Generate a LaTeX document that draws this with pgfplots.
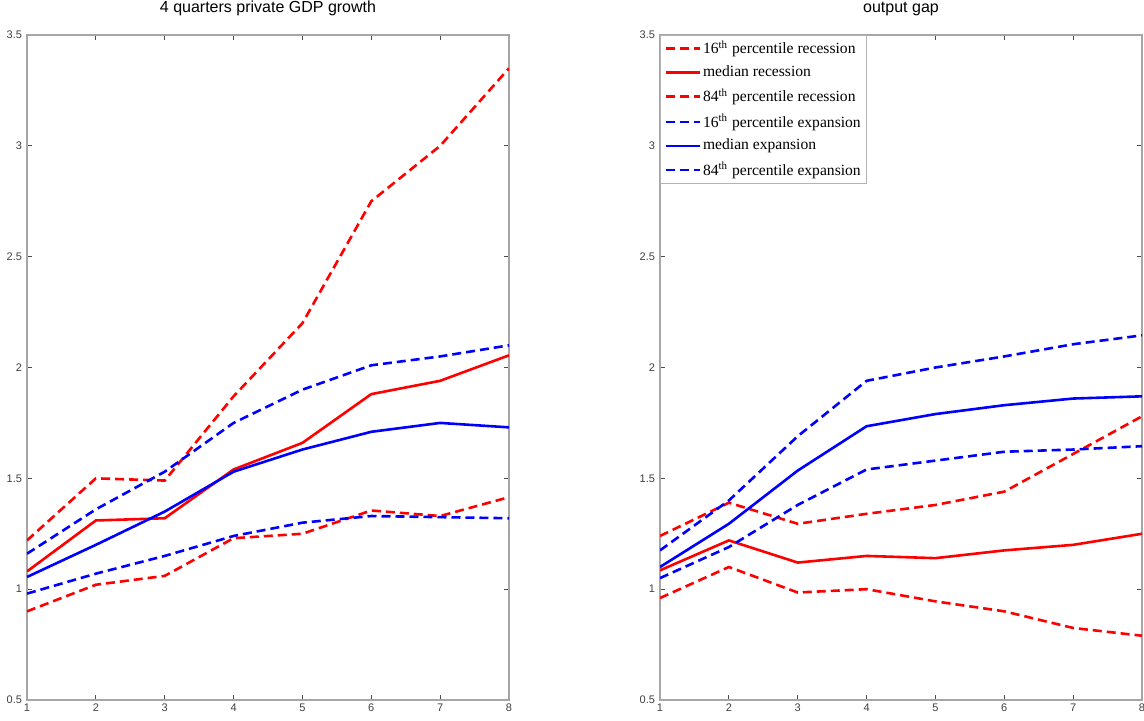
\documentclass[border=0pt]{standalone}
\usepackage{fontspec}
\setmainfont{Liberation Serif}
\setsansfont{Liberation Sans}
\usepackage{pgfplots}
\pgfplotsset{compat=1.18}
\begin{document}
\begin{tikzpicture}
\pgfplotsset{
  panel/.style={
    scale only axis, width=241pt, height=332.5pt,
    xmin=1, xmax=8, ymin=0.5, ymax=3.5,
    xtick={1,2,...,8}, ytick={0.5,1,1.5,2,2.5,3,3.5},
    tick align=inside, xtick pos=both, ytick pos=both,
    major tick length=2.5pt,
    axis line style={gray!70, line width=0.6pt},
    tick style={black!70, line width=0.5pt},
    tick label style={font=\sffamily\fontsize{5.5}{6}\selectfont, text=black!75},
    yticklabel style={xshift=1pt},
    xticklabel style={yshift=1.5pt},
    /pgf/number format/assume math mode=true,
    title style={font=\sffamily\fontsize{8}{9}\selectfont, at={(0.5,1)}, anchor=base, inner sep=0pt, yshift=5.5pt},
  },
  rd/.style={red, line width=1.3pt, dash pattern=on 4.5pt off 2.5pt},
  rs/.style={red, line width=1.3pt},
  bd/.style={blue, line width=1.3pt, dash pattern=on 4.5pt off 2.5pt},
  bs/.style={blue, line width=1.3pt},
}
\path[use as bounding box] (0,0) rectangle (572pt,360pt);
\begin{axis}[panel, at={(13.5pt,10pt)}, anchor=south west, title={4 quarters private GDP growth}]
\addplot[rd] coordinates {(1,0.90) (2,1.02) (3,1.06) (4,1.23) (5,1.25) (6,1.355) (7,1.33) (8,1.415)};
\addplot[rs] coordinates {(1,1.08) (2,1.31) (3,1.32) (4,1.54) (5,1.66) (6,1.88) (7,1.94) (8,2.055)};
\addplot[rd] coordinates {(1,1.22) (2,1.50) (3,1.49) (4,1.87) (5,2.20) (6,2.75) (7,3.0) (8,3.35)};
\addplot[bd] coordinates {(1,0.98) (2,1.07) (3,1.15) (4,1.24) (5,1.30) (6,1.33) (7,1.325) (8,1.32)};
\addplot[bs] coordinates {(1,1.055) (2,1.20) (3,1.35) (4,1.53) (5,1.63) (6,1.71) (7,1.75) (8,1.73)};
\addplot[bd] coordinates {(1,1.16) (2,1.36) (3,1.53) (4,1.75) (5,1.90) (6,2.01) (7,2.05) (8,2.10)};
\end{axis}
\begin{axis}[panel, at={(330pt,10pt)}, anchor=south west, title={output gap},
  legend style={at={(0,1)}, anchor=north west, draw=gray!60, line width=0.5pt,
    font=\fontsize{7.8}{8.5}\selectfont, row sep=0.5pt, inner xsep=2pt, inner ysep=0.5pt,
    cells={anchor=west}, nodes={inner xsep=1pt}},
  legend image code/.code={\draw[#1] (0pt,0pt) -- (17pt,0pt);}]
\addplot[rd] coordinates {(1,0.96) (2,1.10) (3,0.985) (4,1.0) (5,0.945) (6,0.90) (7,0.825) (8,0.79)};
\addlegendentry{16\textsuperscript{th} percentile recession}
\addplot[rs] coordinates {(1,1.085) (2,1.22) (3,1.12) (4,1.15) (5,1.14) (6,1.175) (7,1.20) (8,1.25)};
\addlegendentry{median recession}
\addplot[rd] coordinates {(1,1.24) (2,1.39) (3,1.295) (4,1.34) (5,1.38) (6,1.44) (7,1.61) (8,1.78)};
\addlegendentry{84\textsuperscript{th} percentile recession}
\addplot[bd] coordinates {(1,1.05) (2,1.19) (3,1.38) (4,1.54) (5,1.58) (6,1.62) (7,1.63) (8,1.645)};
\addlegendentry{16\textsuperscript{th} percentile expansion}
\addplot[bs] coordinates {(1,1.10) (2,1.295) (3,1.535) (4,1.735) (5,1.79) (6,1.83) (7,1.86) (8,1.87)};
\addlegendentry{median expansion}
\addplot[bd] coordinates {(1,1.175) (2,1.40) (3,1.69) (4,1.94) (5,2.0) (6,2.05) (7,2.105) (8,2.145)};
\addlegendentry{84\textsuperscript{th} percentile expansion}
\end{axis}
\end{tikzpicture}
\end{document}
